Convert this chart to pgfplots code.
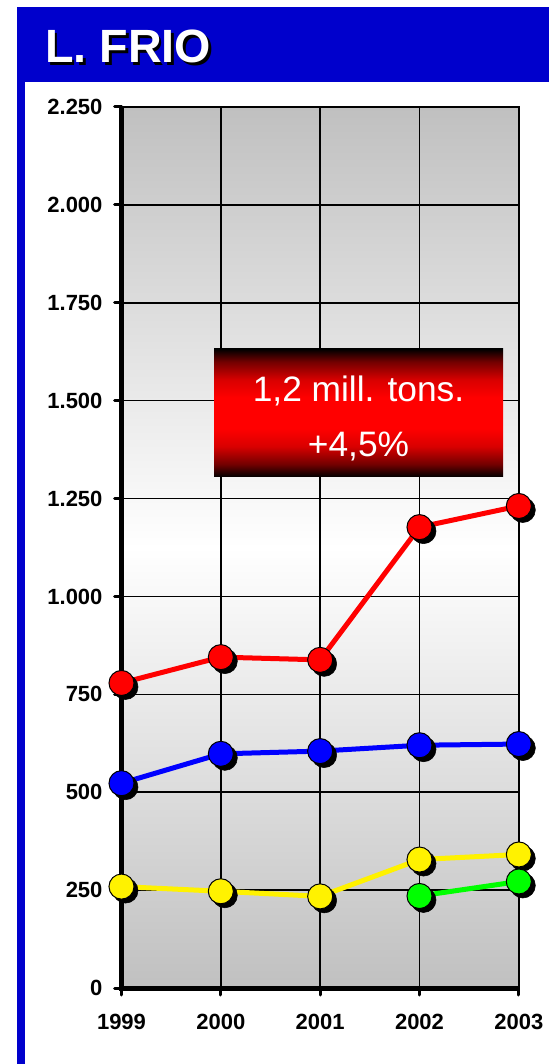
\documentclass[border=0pt]{standalone}
\usepackage{pgfplots}
\pgfplotsset{compat=1.18}
\usepackage{fontspec}
\setmainfont{Liberation Sans}
\definecolor{frameblue}{RGB}{0,0,204}
\definecolor{plotgray}{RGB}{192,192,192}
\definecolor{lgreen}{RGB}{0,255,0}
\pgfdeclareverticalshading{redbox}{100bp}{color(0bp)=(black); color(25bp)=(black); color(30bp)=(red!45!black); color(37bp)=(red!85!black); color(44bp)=(red); color(56bp)=(red); color(63bp)=(red!85!black); color(70bp)=(red!45!black); color(75bp)=(black); color(100bp)=(black)}

\begin{document}
\begin{tikzpicture}
  % frame, in pixel units of the reference
  \begin{scope}[x=0.75pt,y=0.75pt]
    \useasboundingbox (0,0) rectangle (549,1064);
    \fill[frameblue] (17,1057) rectangle (549,0);
    \fill[white] (25,982) rectangle (549,0);
    \node[anchor=base west,inner sep=0pt,text=black,font=\fontsize{35}{40}\selectfont\bfseries] at (47.5,998.5) {L. FRIO};
    \node[anchor=base west,inner sep=0pt,text=white,font=\fontsize{35}{40}\selectfont\bfseries] at (45,1001) {L. FRIO};
  \end{scope}

  \pgfplotsset{
    shadow/.style={only marks, mark=*, mark size=9.4pt, draw=black, fill=black,
      mark options={xshift=3pt, yshift=-3pt}},
    ser/.style={draw=#1, line width=3.75pt, mark=*, mark size=9.4pt,
      mark options={draw=black, fill=#1, line width=0.75pt}},
  }

  \begin{axis}[
      at={(91.125pt,57pt)}, anchor=south west,
      scale only axis, width=298pt, height=660.75pt,
      xmin=1999, xmax=2003, ymin=0, ymax=2250,
      xtick={1999,2000,2001,2002,2003},
      xticklabels={1999,2000,2001,2002,2003},
      ytick={0,250,...,2250},
      yticklabel style={xshift=-5.5pt, /pgf/number format/.cd, fixed, 1000 sep={.}},
      xticklabel style={yshift=-11pt},
      /pgf/number format/assume math mode=true,
      tick label style={font=\fontsize{16.5}{18}\selectfont\bfseries},
      tick pos=left, tick align=outside,
      major tick length=5.25pt,
      every tick/.style={black, line width=2.25pt, line cap=round},
      grid=major,
      major grid style={black, line width=1.1pt},
      axis line style={black, line width=1.5pt},
      axis background/.style={top color=plotgray, bottom color=plotgray, middle color=white},
      clip=false,
    ]
    \draw[black, line width=3.75pt] (rel axis cs:0,1) -- (rel axis cs:0,0) -- (rel axis cs:1,0);

    % red
    \addplot[shadow] coordinates {(1999,779) (2000,845) (2001,838) (2002,1177) (2003,1231)};
    \addplot[ser=red] coordinates {(1999,779) (2000,845) (2001,838) (2002,1177) (2003,1231)};
    % blue
    \addplot[shadow] coordinates {(1999,523) (2000,598) (2001,605) (2002,620) (2003,623)};
    \addplot[ser=blue] coordinates {(1999,523) (2000,598) (2001,605) (2002,620) (2003,623)};
    % yellow
    \addplot[shadow] coordinates {(1999,259) (2000,247) (2001,234) (2002,328) (2003,341)};
    \addplot[ser=yellow] coordinates {(1999,259) (2000,247) (2001,234) (2002,328) (2003,341)};
    % green
    \addplot[shadow] coordinates {(2002,235) (2003,272)};
    \addplot[ser=lgreen] coordinates {(2002,235) (2003,272)};
  \end{axis}

  % annotation box
  \begin{scope}[x=0.75pt,y=0.75pt]
    \shade[shading=redbox] (214,587) rectangle (503,715);
    \node[anchor=base,inner sep=0pt,text=white,font=\fontsize{26.5}{30}\selectfont] at (358.5,662) {1,2 mill. tons.};
    \node[anchor=base,inner sep=0pt,text=white,font=\fontsize{26.5}{30}\selectfont] at (358.5,607) {+4,5\%};
  \end{scope}
\end{tikzpicture}
\end{document}
